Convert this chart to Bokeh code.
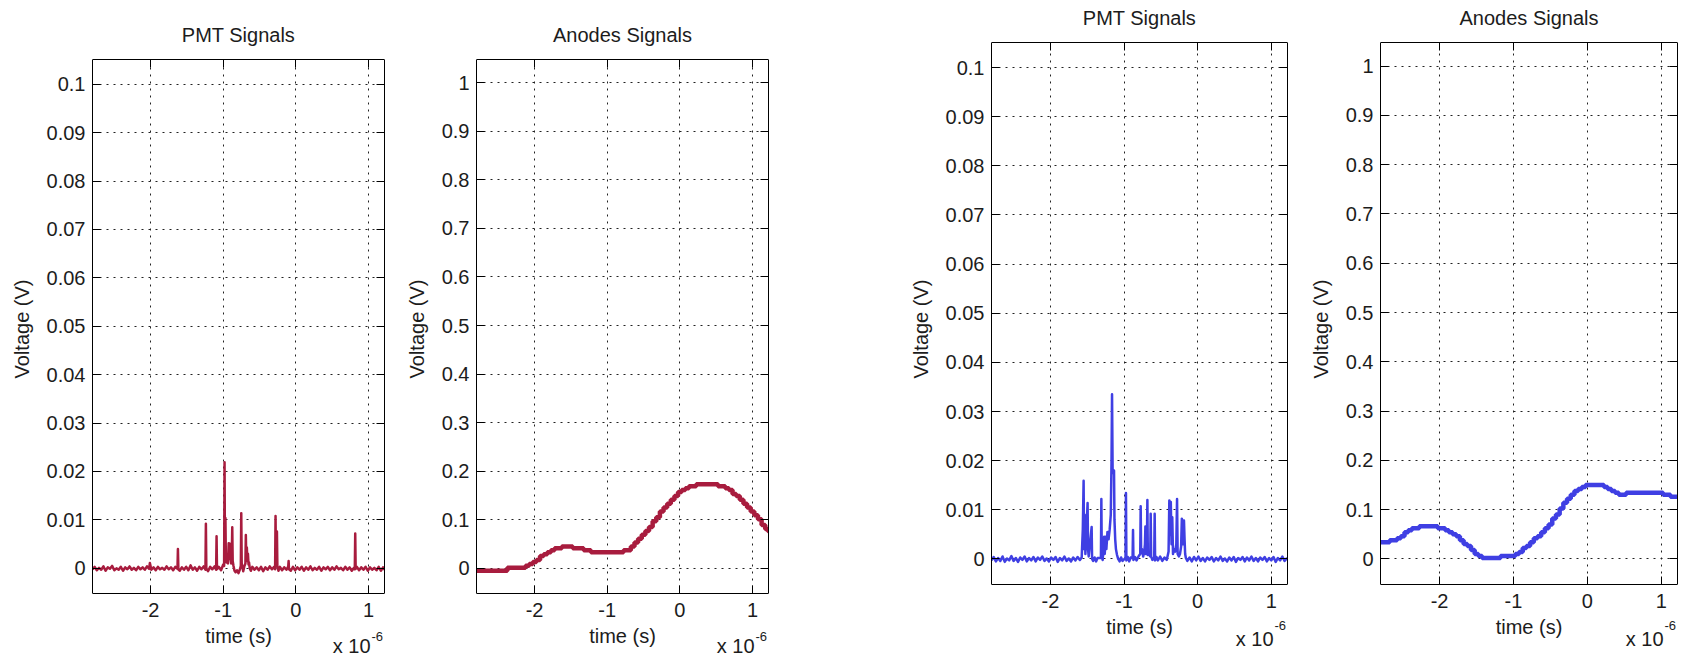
import numpy as np
from bokeh.plotting import figure
from bokeh.models import Range1d, FixedTicker, LinearAxis, Label, BoxAnnotation
from bokeh.layouts import row
from bokeh.embed import file_html
from bokeh.resources import INLINE

# ---------------- data (time in microseconds) ----------------
X_TICKS = [-2, -1, 0, 1]
X_TICK_LABELS = ["-2", "-1", "0", "1"]
PMT_YTICKS = [0, 0.01, 0.02, 0.03, 0.04, 0.05, 0.06, 0.07, 0.08, 0.09, 0.1]
PMT_YTICK_LABELS = ["0", "0.01", "0.02", "0.03", "0.04", "0.05", "0.06", "0.07", "0.08", "0.09", "0.1"]
ANODE_YTICKS = [0, 0.1, 0.2, 0.3, 0.4, 0.5, 0.6, 0.7, 0.8, 0.9, 1.0]
ANODE_YTICK_LABELS = ["0", "0.1", "0.2", "0.3", "0.4", "0.5", "0.6", "0.7", "0.8", "0.9", "1"]

# PMT signal, red event (t in us, v in mV)
pmt_red_t = [
    -2.80, -2.77, -2.74, -2.71, -2.68, -2.65, -2.62, -2.59, -2.56, -2.53,
    -2.50, -2.47, -2.44, -2.41, -2.38, -2.35, -2.32, -2.29, -2.26, -2.23,
    -2.20, -2.17, -2.14, -2.11, -2.08, -2.05, -2.02, -2.01, -1.99, -1.96,
    -1.93, -1.90, -1.87, -1.84, -1.81, -1.78, -1.75, -1.72, -1.69, -1.66,
    -1.63, -1.624, -1.618, -1.60, -1.57, -1.54, -1.51, -1.48, -1.45, -1.42,
    -1.39, -1.36, -1.33, -1.30, -1.27, -1.245, -1.239, -1.233, -1.21, -1.18,
    -1.15, -1.12, -1.098, -1.092, -1.086, -1.06, -1.03, -1.00, -0.988, -0.982,
    -0.976, -0.970, -0.964, -0.955, -0.945, -0.935, -0.925, -0.915, -0.908, -0.900,
    -0.890, -0.882, -0.876, -0.870, -0.860, -0.845, -0.830, -0.810, -0.790, -0.770,
    -0.758, -0.752, -0.746, -0.735, -0.725, -0.710, -0.695, -0.689, -0.683, -0.675,
    -0.668, -0.660, -0.652, -0.645, -0.635, -0.62, -0.60, -0.57, -0.54, -0.51,
    -0.48, -0.45, -0.42, -0.39, -0.36, -0.33, -0.30, -0.286, -0.280, -0.274,
    -0.267, -0.261, -0.255, -0.24, -0.22, -0.19, -0.16, -0.13, -0.105, -0.10,
    -0.095, -0.07, -0.04, -0.01, 0.02, 0.05, 0.08, 0.11, 0.14, 0.17,
    0.20, 0.23, 0.26, 0.29, 0.32, 0.35, 0.38, 0.41, 0.44, 0.47,
    0.50, 0.53, 0.56, 0.59, 0.62, 0.65, 0.68, 0.71, 0.74, 0.77,
    0.80, 0.811, 0.817, 0.823, 0.84, 0.87, 0.90, 0.93, 0.96, 0.99,
    1.02, 1.05, 1.08, 1.11, 1.14, 1.17, 1.20, 1.22,
]
pmt_red_mv = [
    -0.2, 0.3, -0.4, 0.1, -0.3, 0.4, -0.5, 0.2, -0.1, 0.5,
    -0.4, 0.0, -0.3, 0.3, -0.5, 0.2, -0.2, 0.4, -0.3, 0.1,
    -0.4, 0.3, -0.2, 0.2, -0.3, 0.4, -0.1, 1.1, -0.3, 0.2,
    -0.4, 0.3, -0.2, 0.1, -0.3, 0.4, -0.2, 0.2, -0.4, 0.3,
    -0.1, 4.0, -0.2, -0.5, 0.2, -0.3, 0.3, -0.4, 0.6, -0.3,
    0.2, -0.5, 0.3, -0.2, 0.4, -0.3, 9.2, 0.0, -0.6, 0.3,
    -0.2, 0.4, -0.3, 6.6, -0.2, 0.3, -0.4, 0.8, 0.5, 21.9,
    1.5, 10.4, 2.0, 1.2, 2.5, 1.0, 5.2, 3.0, 5.1, 2.0,
    1.0, 3.0, 8.5, 1.5, 0.6, -0.5, -0.8, -0.4, -1.0, -0.2,
    0.5, 11.4, 1.0, 0.2, -0.6, 0.4, 1.0, 6.9, 2.0, 4.3,
    1.5, 3.0, 0.8, 1.2, 0.0, -0.5, 0.3, -0.3, 0.2, -0.4,
    0.3, -0.6, 0.2, -0.3, 0.4, -0.2, 0.3, -0.2, 10.8, 1.0,
    3.0, 7.6, 0.5, -0.5, 0.3, -0.4, 0.2, -0.3, 0.4, 1.5,
    -0.2, -0.5, 0.3, -0.4, 0.2, -0.3, 0.3, -0.5, 0.2, -0.3,
    0.4, -0.4, 0.1, -0.3, 0.3, -0.5, 0.2, -0.2, 0.3, -0.4,
    0.2, -0.3, 0.4, -0.2, 0.1, -0.4, 0.3, -0.3, 0.2, -0.5,
    0.1, -0.2, 7.2, -0.1, 0.3, -0.4, 0.2, -0.3, 0.3, -0.5,
    0.2, -0.3, 0.1, -0.4, 0.3, -0.5, 0.2, -0.3,
]

# PMT signal, blue event (t in us, v in mV)
pmt_blue_t = [
    -2.80, -2.77, -2.74, -2.71, -2.68, -2.65, -2.62, -2.59, -2.56, -2.53,
    -2.50, -2.47, -2.44, -2.41, -2.38, -2.35, -2.32, -2.29, -2.26, -2.23,
    -2.20, -2.17, -2.14, -2.11, -2.08, -2.05, -2.02, -1.99, -1.96, -1.93,
    -1.90, -1.87, -1.84, -1.81, -1.78, -1.75, -1.72, -1.69, -1.66, -1.63,
    -1.60, -1.575, -1.560, -1.549, -1.543, -1.535, -1.525, -1.515, -1.495, -1.489,
    -1.480, -1.440, -1.434, -1.42, -1.40, -1.38, -1.36, -1.314, -1.308, -1.302,
    -1.290, -1.270, -1.262, -1.250, -1.240, -1.225, -1.210, -1.195, -1.180, -1.170,
    -1.163, -1.155, -1.145, -1.136, -1.130, -1.120, -1.110, -1.095, -1.08, -1.06,
    -1.04, -1.02, -0.980, -0.974, -0.968, -0.95, -0.93, -0.91, -0.884, -0.878,
    -0.872, -0.85, -0.83, -0.80, -0.78, -0.774, -0.768, -0.755, -0.740, -0.725,
    -0.716, -0.710, -0.704, -0.690, -0.683, -0.677, -0.660, -0.644, -0.638, -0.632,
    -0.615, -0.590, -0.584, -0.578, -0.56, -0.54, -0.51, -0.48, -0.45, -0.42,
    -0.395, -0.385, -0.375, -0.365, -0.355, -0.345, -0.335, -0.320, -0.305, -0.290,
    -0.280, -0.272, -0.255, -0.240, -0.225, -0.215, -0.205, -0.195, -0.186, -0.178,
    -0.170, -0.160, -0.14, -0.11, -0.08, -0.05, -0.02, 0.01, 0.04, 0.07,
    0.10, 0.13, 0.16, 0.19, 0.22, 0.25, 0.28, 0.31, 0.34, 0.37,
    0.40, 0.43, 0.46, 0.49, 0.52, 0.55, 0.58, 0.61, 0.64, 0.67,
    0.70, 0.73, 0.76, 0.79, 0.82, 0.85, 0.88, 0.91, 0.94, 0.97,
    1.00, 1.03, 1.06, 1.09, 1.12, 1.15, 1.18, 1.21, 1.22,
]
pmt_blue_mv = [
    -0.3, 0.4, -0.5, 0.2, -0.4, 0.5, -0.6, 0.1, -0.3, 0.6,
    -0.4, 0.2, -0.6, 0.3, -0.2, 0.5, -0.5, 0.2, -0.3, 0.4,
    -0.5, 0.3, -0.2, 0.5, -0.4, 0.1, -0.5, 0.3, -0.2, 0.4,
    -0.6, 0.2, -0.3, 0.5, -0.4, 0.1, -0.5, 0.3, -0.3, 0.4,
    -0.2, 0.3, 6.0, 15.9, 2.0, 9.0, 1.0, 4.0, 11.4, 2.0,
    0.5, 6.5, 0.0, -0.4, 0.3, -0.5, 0.2, 0.2, 12.2, 0.5,
    -0.2, 4.5, 1.0, 4.5, 2.0, 5.5, 4.0, 6.0, 9.0, 20.0,
    33.5, 18.0, 17.5, 18.0, 8.0, 4.0, 2.0, 0.8, 0.0, -0.5,
    0.3, -0.4, 0.2, 13.4, -0.3, 0.4, -0.5, 0.3, 0.2, 5.9,
    -0.2, 0.4, -0.3, 0.6, 1.0, 10.7, 1.5, 2.0, 0.5, 1.5,
    3.0, 6.6, 1.0, 2.0, 12.0, 0.8, 1.0, 0.5, 9.2, 0.5,
    -0.2, 0.3, 9.2, -0.3, 0.4, -0.3, 0.5, -0.4, 0.3, -0.2,
    1.5, 11.9, 5.0, 11.6, 3.0, 8.5, 1.0, 2.0, 1.5, 3.0,
    12.2, 1.0, 0.5, 1.0, 2.5, 8.2, 7.5, 3.0, 7.8, 4.0,
    1.0, 0.2, -0.4, 0.3, -0.5, 0.4, -0.3, 0.5, -0.4, 0.2,
    -0.5, 0.3, -0.2, 0.4, -0.5, 0.2, -0.3, 0.5, -0.4, 0.1,
    -0.5, 0.3, -0.3, 0.4, -0.6, 0.2, -0.2, 0.4, -0.5, 0.3,
    -0.3, 0.5, -0.4, 0.2, -0.5, 0.3, -0.2, 0.4, -0.5, 0.2,
    -0.3, 0.4, -0.6, 0.2, -0.3, 0.5, -0.4, 0.1, -0.2,
]

# Anode signals (t in us, v in V)
anode_t = [
    -2.80, -2.75, -2.70, -2.65, -2.60, -2.55, -2.50, -2.45, -2.40, -2.35,
    -2.30, -2.25, -2.20, -2.15, -2.10, -2.05, -2.00, -1.95, -1.90, -1.85,
    -1.80, -1.75, -1.70, -1.65, -1.60, -1.55, -1.50, -1.45, -1.40, -1.35,
    -1.30, -1.25, -1.20, -1.15, -1.10, -1.05, -1.00, -0.95, -0.90, -0.85,
    -0.80, -0.75, -0.70, -0.65, -0.60, -0.55, -0.50, -0.45, -0.40, -0.35,
    -0.30, -0.25, -0.20, -0.15, -0.10, -0.05, 0.00, 0.05, 0.10, 0.15,
    0.20, 0.25, 0.30, 0.35, 0.40, 0.45, 0.50, 0.55, 0.60, 0.65,
    0.70, 0.75, 0.80, 0.85, 0.90, 0.95, 1.00, 1.05, 1.10, 1.15,
    1.20, 1.22,
]
anode_red_v = [
    -0.005, -0.005, -0.005, -0.005, -0.005, -0.005, -0.005, -0.005, -0.005, 0.001,
    0.001, 0.001, 0.001, 0.001, 0.005, 0.009, 0.013, 0.017, 0.025, 0.029,
    0.033, 0.037, 0.041, 0.041, 0.045, 0.045, 0.045, 0.041, 0.041, 0.041,
    0.037, 0.037, 0.033, 0.033, 0.033, 0.033, 0.033, 0.033, 0.033, 0.033,
    0.033, 0.037, 0.037, 0.045, 0.053, 0.061, 0.069, 0.077, 0.085, 0.097,
    0.105, 0.117, 0.125, 0.133, 0.141, 0.149, 0.157, 0.161, 0.165, 0.169,
    0.169, 0.173, 0.173, 0.173, 0.173, 0.173, 0.173, 0.169, 0.169, 0.165,
    0.161, 0.153, 0.149, 0.141, 0.133, 0.125, 0.117, 0.109, 0.101, 0.089,
    0.081, 0.077,
]
anode_blue_v = [
    0.034, 0.034, 0.034, 0.038, 0.038, 0.042, 0.046, 0.054, 0.058, 0.062,
    0.062, 0.066, 0.066, 0.066, 0.066, 0.066, 0.062, 0.062, 0.058, 0.054,
    0.050, 0.046, 0.038, 0.030, 0.026, 0.018, 0.010, 0.006, 0.002, 0.002,
    0.002, 0.002, 0.002, 0.006, 0.006, 0.006, 0.006, 0.010, 0.014, 0.022,
    0.026, 0.034, 0.042, 0.046, 0.054, 0.062, 0.070, 0.082, 0.090, 0.102,
    0.114, 0.122, 0.130, 0.138, 0.142, 0.146, 0.150, 0.150, 0.150, 0.150,
    0.150, 0.146, 0.142, 0.138, 0.134, 0.130, 0.130, 0.134, 0.134, 0.134,
    0.134, 0.134, 0.134, 0.134, 0.134, 0.134, 0.134, 0.130, 0.130, 0.126,
    0.126, 0.126,
]

X_RANGE = (-2.8, 1.22)
PMT_YRANGE = (-0.0052, 0.1051)
ANODE_YRANGE = (-0.052, 1.048)

RED = "#A81C3E"
BLUE = "#3F3FE3"
FONT = "Liberation Sans"
TXT = "#1c1c1c"
H = 657


def style_axis(ax, ticks, labels, show_labels=True):
    ax.ticker = FixedTicker(ticks=ticks)
    ax.major_label_overrides = {t: l for t, l in zip(ticks, labels)}
    ax.major_tick_in = 8
    ax.major_tick_out = 0
    ax.minor_tick_line_color = None
    ax.axis_line_color = "black"
    ax.axis_line_width = 1
    ax.major_tick_line_color = "black"
    ax.major_tick_line_width = 1
    ax.major_label_text_font = FONT
    ax.axis_label_text_font = FONT
    ax.axis_label_text_font_size = "20px"
    ax.axis_label_text_font_style = "normal"
    ax.axis_label_text_color = TXT
    if show_labels:
        ax.major_label_text_font_size = "20px"
        ax.major_label_text_color = TXT
        ax.major_label_standoff = 7
    else:
        ax.major_label_text_font_size = "0px"
        ax.major_label_text_color = None
        ax.major_label_standoff = 0


def make_panel(title, yrange, yticks, ylabels, w, bl, br, box_top, box_bottom,
               exp_off, sup_off):
    y0, y1 = yrange
    k = (y1 - y0) / (box_bottom - box_top)          # data units per pixel
    f_end = y1 + box_top * k                        # frame reaches the canvas top
    f_start = y0 - (H - box_bottom) * k             # ... and the canvas bottom
    p = figure(width=w, height=H, output_backend="svg", toolbar_location=None, title=None,
               x_range=Range1d(*X_RANGE), y_range=Range1d(f_start, f_end),
               min_border_left=bl, min_border_right=br,
               min_border_top=0, min_border_bottom=0)
    p.background_fill_color = "white"
    p.border_fill_color = "white"
    p.outline_line_color = None

    xa = p.xaxis[0]
    style_axis(xa, X_TICKS, X_TICK_LABELS)
    xa.fixed_location = y0
    xa.axis_label = "time (s)"
    xa.major_label_standoff = 9
    xa.axis_label_standoff = 5

    ya = p.yaxis[0]
    style_axis(ya, yticks, ylabels)
    ya.bounds = (y0, y1)
    ya.axis_label = "Voltage (V)"
    ya.axis_label_standoff = 11

    top = LinearAxis(fixed_location=y1)
    style_axis(top, X_TICKS, X_TICK_LABELS, show_labels=False)
    p.add_layout(top, "above")
    right = LinearAxis(bounds=(y0, y1))
    style_axis(right, yticks, ylabels, show_labels=False)
    p.add_layout(right, "right")

    for g in (p.xgrid[0], p.ygrid[0]):
        g.grid_line_color = "#222222"
        g.grid_line_dash = "2 5"
        g.grid_line_width = 1

    # keep the grid inside the axes box
    p.add_layout(BoxAnnotation(left=X_RANGE[0], right=X_RANGE[1], bottom=y1, top=f_end,
                               fill_color="white", fill_alpha=1, line_color=None, level="underlay"))
    p.add_layout(BoxAnnotation(left=X_RANGE[0], right=X_RANGE[1], bottom=f_start, top=y0,
                               fill_color="white", fill_alpha=1, line_color=None, level="underlay"))

    p.add_layout(Label(x=(X_RANGE[0] + X_RANGE[1]) / 2, y=y1, y_offset=25, text=title,
                       text_align="center", text_baseline="alphabetic",
                       text_font=FONT, text_font_size="20px", text_color=TXT))
    p.add_layout(Label(x=X_RANGE[1], y=y0, x_offset=-14, y_offset=exp_off,
                       text="x 10", text_align="right", text_baseline="alphabetic",
                       text_font=FONT, text_font_size="20px", text_color=TXT))
    p.add_layout(Label(x=X_RANGE[1], y=y0, x_offset=-13, y_offset=sup_off,
                       text="-6", text_align="left", text_baseline="alphabetic",
                       text_font=FONT, text_font_size="13px", text_color=TXT))
    return p


p1 = make_panel("PMT Signals", PMT_YRANGE, PMT_YTICKS, PMT_YTICK_LABELS,
                400, 92, 16, 59, 593, -52, -43)
p1.line(pmt_red_t, np.array(pmt_red_mv) / 1000.0, color=RED, line_width=2.5, line_join="round")

p2 = make_panel("Anodes Signals", ANODE_YRANGE, ANODE_YTICKS, ANODE_YTICK_LABELS,
                400, 76, 32, 59, 593, -52, -43)
p2.step(anode_t, anode_red_v, mode="center", color=RED, line_width=4.5)

p3 = make_panel("PMT Signals", PMT_YRANGE, PMT_YTICKS, PMT_YTICK_LABELS,
                500, 191, 13, 42, 584, -54, -41)
p3.line(pmt_blue_t, np.array(pmt_blue_mv) / 1000.0, color=BLUE, line_width=2.5, line_join="round")

p4 = make_panel("Anodes Signals", ANODE_YRANGE, ANODE_YTICKS, ANODE_YTICK_LABELS,
                384, 80, 7, 42, 584, -54, -41)
p4.step(anode_t, anode_blue_v, mode="center", color=BLUE, line_width=4.5)

layout = row(p1, p2, p3, p4)
open("out.html", "w").write(file_html(layout, INLINE))
